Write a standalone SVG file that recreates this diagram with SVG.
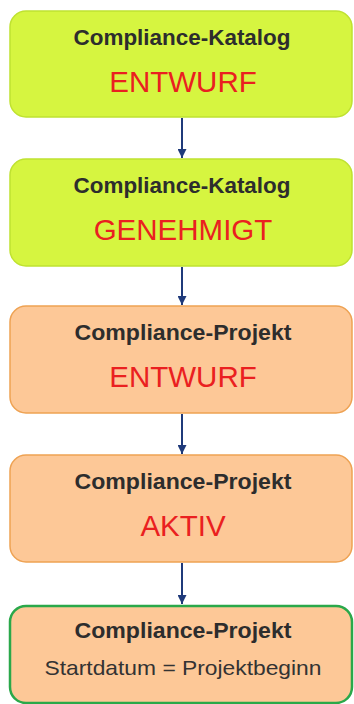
<svg xmlns="http://www.w3.org/2000/svg" width="354" height="704" viewBox="0 0 354 704">
<style>
.lime{fill:#d6f540;stroke:#bfe230;stroke-width:1.5}
.orange{fill:#fdc897;stroke:#eea253;stroke-width:1.5}
.final{fill:#fdc897;stroke:#2aa84a;stroke-width:2.5}
.title{font-family:"Liberation Sans",Arial,sans-serif;font-weight:bold;font-size:22px;fill:#2d2d2d;text-anchor:middle}
.status{font-family:"Liberation Sans",Arial,sans-serif;font-size:29.5px;fill:#ea2020;text-anchor:middle}
.sub{font-family:"Liberation Sans",Arial,sans-serif;font-size:21px;fill:#333;text-anchor:middle}
.conn{stroke:#1f3a7a;stroke-width:2;fill:none;marker-end:url(#ah)}
</style>
<defs>
<marker id="ah" viewBox="0 0 10 10" refX="10" refY="5" markerWidth="4.5" markerHeight="4.5" markerUnits="strokeWidth" orient="auto">
<path d="M0,0 L10,5 L0,10 z" fill="#1f3a7a"/>
</marker>
</defs>
<rect width="354" height="704" fill="#ffffff"/>
<g id="connectors">
<line class="conn" x1="182" y1="118" x2="182" y2="158"/>
<line class="conn" x1="182" y1="267" x2="182" y2="305"/>
<line class="conn" x1="182" y1="414" x2="182" y2="454"/>
<line class="conn" x1="182" y1="563" x2="182" y2="604"/>
</g>
<g id="node1">
<rect class="lime" x="10" y="11" width="342" height="106" rx="16"/>
<text class="title" x="182" y="45" textLength="217" lengthAdjust="spacingAndGlyphs">Compliance-Katalog</text>
<text class="status" x="183" y="92">ENTWURF</text>
</g>
<g id="node2">
<rect class="lime" x="10" y="159" width="342" height="107" rx="16"/>
<text class="title" x="182" y="193" textLength="217" lengthAdjust="spacingAndGlyphs">Compliance-Katalog</text>
<text class="status" x="183" y="240">GENEHMIGT</text>
</g>
<g id="node3">
<rect class="orange" x="10" y="306" width="342" height="107" rx="16"/>
<text class="title" x="183" y="340" textLength="217" lengthAdjust="spacingAndGlyphs">Compliance-Projekt</text>
<text class="status" x="183" y="387">ENTWURF</text>
</g>
<g id="node4">
<rect class="orange" x="10" y="455" width="342" height="107" rx="16"/>
<text class="title" x="183" y="489" textLength="217" lengthAdjust="spacingAndGlyphs">Compliance-Projekt</text>
<text class="status" x="183" y="536">AKTIV</text>
</g>
<g id="node5">
<rect class="final" x="10" y="606" width="342" height="97" rx="16"/>
<text class="title" x="183" y="638" textLength="217" lengthAdjust="spacingAndGlyphs">Compliance-Projekt</text>
<text class="sub" x="183" y="675" textLength="277" lengthAdjust="spacingAndGlyphs">Startdatum = Projektbeginn</text>
</g>
</svg>
